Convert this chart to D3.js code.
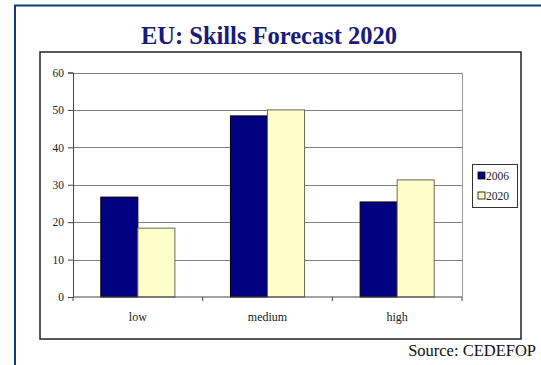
<!DOCTYPE html>
<html>
<head>
<meta charset="utf-8">
<script src="https://cdn.jsdelivr.net/npm/d3@7"></script>
<style>
  html, body { margin: 0; padding: 0; background: #fff; }
  svg { display: block; font-family: "Liberation Serif", "Times New Roman", serif; }
</style>
</head>
<body>
<svg id="chart" width="541" height="365"></svg>
<script>
// EU skills forecast: share by skill level, 2006 vs 2020
const categories = ["low", "medium", "high"];
const seriesNames = ["2006", "2020"];
const values2006 = [26.7, 48.4, 25.4];
const values2020 = [18.4, 50.0, 31.3];
const yTicks = [0, 10, 20, 30, 40, 50, 60];

const colors = { "2006": "#000080", "2020": "#ffffcc" };
const strokes = { "2006": "#000000", "2020": "#6b6b55" };

const svg = d3.select("#chart");

// outer blue frame (runs off the right and bottom edges)
svg.append("rect")
  .attr("x", 15).attr("y", 5.5)
  .attr("width", 700).attr("height", 500)
  .attr("fill", "none")
  .attr("stroke", "#0d3b78")
  .attr("stroke-width", 2);

svg.append("text")
  .attr("x", 269).attr("y", 44)
  .attr("text-anchor", "middle")
  .attr("font-size", 24.5)
  .attr("font-weight", "bold")
  .attr("fill", "#1a1a7a")
  .text("EU: Skills Forecast 2020");

// chart box
svg.append("rect")
  .attr("x", 40).attr("y", 52)
  .attr("width", 481).attr("height", 287)
  .attr("fill", "#fff")
  .attr("stroke", "#222")
  .attr("stroke-width", 1.5);

const plot = { left: 73, right: 462, top: 72.5, bottom: 297 };

const y = d3.scaleLinear()
  .domain([0, 60])
  .range([plot.bottom, plot.top]);

const x0 = d3.scaleBand()
  .domain(categories)
  .range([plot.left, plot.right]);

// Excel-style gap width 150%: band = 2 bars + 1.5 bar
const gap = x0.bandwidth() * 1.5 / 3.5;
const x1 = d3.scaleBand()
  .domain(seriesNames)
  .range([gap / 2, x0.bandwidth() - gap / 2]);

// gridlines
svg.append("g")
  .selectAll("line")
  .data(yTicks.filter(d => d > 0))
  .join("line")
  .attr("x1", plot.left).attr("x2", plot.right)
  .attr("y1", d => Math.round(y(d)) + 0.5)
  .attr("y2", d => Math.round(y(d)) + 0.5)
  .attr("stroke", "#808080")
  .attr("stroke-width", 1);

// plot area right border
svg.append("line")
  .attr("x1", plot.right + 0.5).attr("x2", plot.right + 0.5)
  .attr("y1", y(60)).attr("y2", plot.bottom)
  .attr("stroke", "#9a9a9a");

// bars
const rows = categories.map((c, i) => ({ cat: c, "2006": values2006[i], "2020": values2020[i] }));

svg.append("g")
  .selectAll("g")
  .data(rows)
  .join("g")
  .attr("transform", d => `translate(${x0(d.cat)},0)`)
  .selectAll("rect")
  .data(d => seriesNames.map(s => ({ s, v: d[s] })))
  .join("rect")
  .attr("x", d => x1(d.s))
  .attr("y", d => y(d.v))
  .attr("width", x1.bandwidth())
  .attr("height", d => plot.bottom - y(d.v))
  .attr("fill", d => colors[d.s])
  .attr("stroke", d => strokes[d.s])
  .attr("stroke-width", 1);

// y axis
const yAxis = svg.append("g")
  .attr("transform", `translate(${plot.left},0)`)
  .call(d3.axisLeft(y).tickValues(yTicks).tickSize(5).tickPadding(4));
yAxis.attr("font-family", null);
yAxis.selectAll("text").attr("font-size", 11.5).attr("fill", "#222");
yAxis.selectAll("line, path").attr("stroke", "#444");

// x axis, ticks between categories
const xAxis = svg.append("g")
  .attr("transform", `translate(0,${plot.bottom})`);
xAxis.append("line")
  .attr("x1", plot.left).attr("x2", plot.right)
  .attr("stroke", "#444");
xAxis.selectAll("line.tick")
  .data(categories.map(c => x0(c)).concat([plot.right]))
  .join("line")
  .attr("class", "tick")
  .attr("x1", d => d).attr("x2", d => d)
  .attr("y1", 0).attr("y2", 4)
  .attr("stroke", "#444");
xAxis.selectAll("text")
  .data(categories)
  .join("text")
  .attr("x", d => x0(d) + x0.bandwidth() / 2)
  .attr("y", 24)
  .attr("text-anchor", "middle")
  .attr("font-size", 12)
  .attr("fill", "#222")
  .text(d => d);

// legend
const legend = svg.append("g");
legend.append("rect")
  .attr("x", 472.5).attr("y", 164.5)
  .attr("width", 45).attr("height", 43)
  .attr("fill", "#fff")
  .attr("stroke", "#333");
const items = legend.selectAll("g")
  .data(seriesNames)
  .join("g")
  .attr("transform", (d, i) => `translate(478,${172 + i * 20})`);
items.append("rect")
  .attr("width", 7).attr("height", 7)
  .attr("fill", d => colors[d])
  .attr("stroke", "#000")
  .attr("stroke-width", 0.8);
items.append("text")
  .attr("x", 8).attr("y", 7.5)
  .attr("font-size", 11.5)
  .attr("fill", "#222")
  .text(d => d);

svg.append("text")
  .attr("x", 536).attr("y", 356)
  .attr("text-anchor", "end")
  .attr("font-size", 16.5)
  .attr("fill", "#111")
  .text("Source: CEDEFOP");
</script>
</body>
</html>
